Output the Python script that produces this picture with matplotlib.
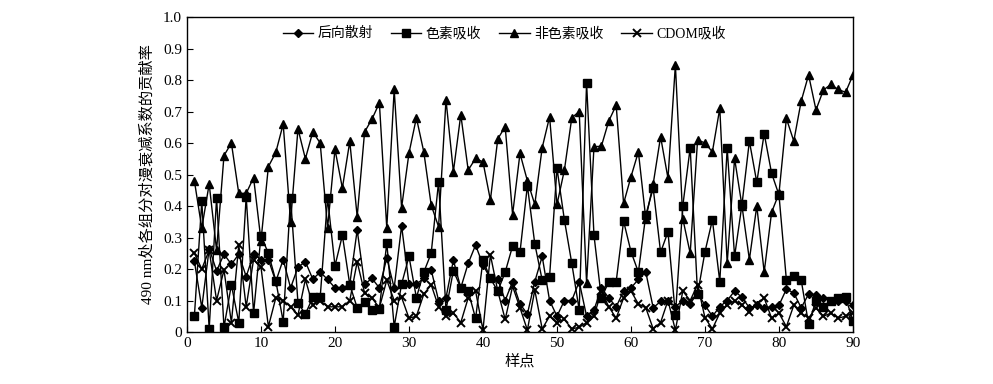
import matplotlib
matplotlib.use("Agg")
import matplotlib.pyplot as plt
from matplotlib.ticker import FixedLocator

plt.rcParams['font.family'] = ['Liberation Serif', 'Noto Sans CJK SC', 'DejaVu Sans']

samples = list(range(1, 91))

backscatter = [0.225, 0.077, 0.265, 0.194, 0.247, 0.215, 0.247, 0.176, 0.247, 0.23,
               0.23, 0.16, 0.23, 0.14, 0.206, 0.223, 0.168, 0.19, 0.167, 0.14,
               0.14, 0.152, 0.324, 0.152, 0.17, 0.14, 0.235, 0.14, 0.337, 0.153,
               0.152, 0.17, 0.197, 0.10, 0.109, 0.228, 0.14, 0.218, 0.276, 0.213,
               0.17, 0.167, 0.10, 0.16, 0.089, 0.057, 0.16, 0.24, 0.10, 0.05,
               0.10, 0.10, 0.16, 0.05, 0.07, 0.14, 0.108, 0.08, 0.13, 0.14,
               0.167, 0.19, 0.077, 0.097, 0.10, 0.08, 0.10, 0.09, 0.124, 0.085,
               0.05, 0.08, 0.10, 0.13, 0.11, 0.077, 0.085, 0.077, 0.08, 0.085,
               0.136, 0.124, 0.077, 0.12, 0.118, 0.108, 0.10, 0.097, 0.10, 0.085]

pigment = [0.05, 0.415, 0.01, 0.425, 0.015, 0.15, 0.03, 0.43, 0.06, 0.305,
           0.25, 0.163, 0.033, 0.425, 0.092, 0.057, 0.11, 0.11, 0.425, 0.21,
           0.307, 0.15, 0.077, 0.096, 0.07, 0.074, 0.283, 0.017, 0.152, 0.24,
           0.109, 0.19, 0.25, 0.477, 0.07, 0.195, 0.14, 0.13, 0.043, 0.228,
           0.17, 0.13, 0.19, 0.273, 0.253, 0.465, 0.28, 0.165, 0.176, 0.52,
           0.356, 0.218, 0.07, 0.79, 0.307, 0.107, 0.16, 0.16, 0.352, 0.255,
           0.19, 0.371, 0.457, 0.253, 0.318, 0.054, 0.40, 0.585, 0.12, 0.255,
           0.356, 0.16, 0.583, 0.24, 0.405, 0.606, 0.475, 0.63, 0.504, 0.435,
           0.165, 0.179, 0.165, 0.025, 0.10, 0.08, 0.10, 0.108, 0.11, 0.035]

nonpigment = [0.48, 0.33, 0.47, 0.26, 0.56, 0.60, 0.44, 0.44, 0.49, 0.29,
              0.525, 0.57, 0.66, 0.35, 0.645, 0.55, 0.635, 0.60, 0.33, 0.58,
              0.457, 0.605, 0.366, 0.635, 0.676, 0.727, 0.33, 0.77, 0.395, 0.568,
              0.68, 0.572, 0.403, 0.334, 0.737, 0.509, 0.69, 0.514, 0.551, 0.54,
              0.419, 0.613, 0.652, 0.373, 0.567, 0.48, 0.405, 0.585, 0.683, 0.405,
              0.514, 0.68, 0.70, 0.155, 0.588, 0.59, 0.67, 0.72, 0.408, 0.493,
              0.572, 0.36, 0.47, 0.62, 0.488, 0.848, 0.36, 0.25, 0.61, 0.60,
              0.572, 0.71, 0.218, 0.551, 0.40, 0.23, 0.40, 0.19, 0.38, 0.44,
              0.678, 0.606, 0.733, 0.816, 0.705, 0.768, 0.786, 0.77, 0.761, 0.816]

cdom = [0.25, 0.20, 0.26, 0.10, 0.197, 0.03, 0.276, 0.08, 0.23, 0.206,
        0.017, 0.108, 0.10, 0.08, 0.054, 0.167, 0.085, 0.10, 0.08, 0.08,
        0.08, 0.10, 0.223, 0.124, 0.108, 0.077, 0.165, 0.10, 0.11, 0.044,
        0.05, 0.12, 0.15, 0.08, 0.05, 0.06, 0.03, 0.108, 0.13, 0.006,
        0.245, 0.13, 0.04, 0.145, 0.077, 0.006, 0.133, 0.01, 0.05, 0.03,
        0.04, 0.01, 0.015, 0.03, 0.05, 0.13, 0.08, 0.044, 0.108, 0.13,
        0.089, 0.077, 0.01, 0.03, 0.10, 0.006, 0.13, 0.10, 0.15, 0.045,
        0.01, 0.06, 0.085, 0.10, 0.085, 0.065, 0.09, 0.108, 0.044, 0.06,
        0.017, 0.085, 0.06, 0.044, 0.077, 0.05, 0.06, 0.044, 0.05, 0.06]

labels = ['后向散射', '色素吸收', '非色素吸收', 'CDOM吸收']
xticks = [0, 10, 20, 30, 40, 50, 60, 70, 80, 90]
yticks = [0, 0.1, 0.2, 0.3, 0.4, 0.5, 0.6, 0.7, 0.8, 0.9, 1.0]
ytick_labels = ['0', '0.1', '0.2', '0.3', '0.4', '0.5', '0.6', '0.7', '0.8', '0.9', '1.0']

fig = plt.figure(figsize=(9.93, 3.84), dpi=100)
ax = fig.add_axes([0.1883, 0.1354, 0.6707, 0.8203])

lw = 1.0
ax.plot(samples, backscatter, color='black', lw=lw, marker='D', markersize=4.2, label=labels[0])
ax.plot(samples, pigment, color='black', lw=lw, marker='s', markersize=5.5, label=labels[1])
ax.plot(samples, nonpigment, color='black', lw=lw, marker='^', markersize=5.8, label=labels[2])
ax.plot(samples, cdom, color='black', lw=lw, marker='x', markersize=5.5, markeredgewidth=1.4, label=labels[3])

ax.set_xlim(0, 90)
ax.set_ylim(0, 1.0)
ax.xaxis.set_major_locator(FixedLocator(xticks))
ax.set_xticklabels([str(v) for v in xticks])
ax.yaxis.set_major_locator(FixedLocator(yticks))
ax.set_yticklabels(ytick_labels)
ax.tick_params(direction='in', length=4, width=0.8, labelsize=11, top=False, right=False)
for s in ax.spines.values():
    s.set_linewidth(1.0)

ax.set_xlabel('样点', fontsize=11, labelpad=3)
ax.set_ylabel('490 nm处各组分对漫衰减系数的贡献率', fontsize=11, labelpad=6)

leg = ax.legend(loc='upper center', bbox_to_anchor=(0.476, 1.0), ncol=4, frameon=False,
                fontsize=10, handlelength=2.2, columnspacing=1.3, handletextpad=0.3,
                borderaxespad=0.3)

fig.savefig('out.png', dpi=100)
